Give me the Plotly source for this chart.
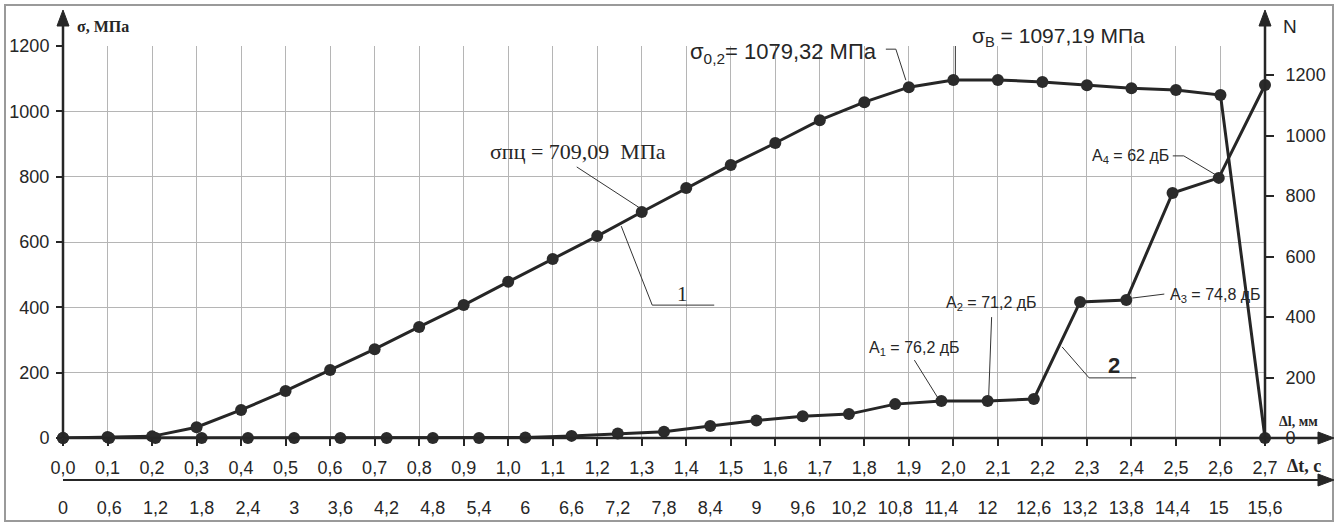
import plotly.graph_objects as go

# ---------------- data ----------------
dl_mm = [0.0, 0.1, 0.2, 0.3, 0.4, 0.5, 0.6, 0.7, 0.8, 0.9, 1.0, 1.1, 1.2, 1.3,
         1.4, 1.5, 1.6, 1.7, 1.8, 1.9, 2.0, 2.1, 2.2, 2.3, 2.4, 2.5, 2.6, 2.7]
dl_labels = ["0,0", "0,1", "0,2", "0,3", "0,4", "0,5", "0,6", "0,7", "0,8", "0,9",
             "1,0", "1,1", "1,2", "1,3", "1,4", "1,5", "1,6", "1,7", "1,8", "1,9",
             "2,0", "2,1", "2,2", "2,3", "2,4", "2,5", "2,6", "2,7"]
sigma_mpa = [0, 3, 5, 33, 86, 144, 208, 272, 340, 407, 478, 548, 618, 692,
             765, 836, 903, 973, 1028, 1074, 1096, 1096, 1090, 1080, 1071, 1065, 1050, 0]

dt_s = [0, 0.6, 1.2, 1.8, 2.4, 3, 3.6, 4.2, 4.8, 5.4, 6, 6.6, 7.2, 7.8, 8.4, 9,
        9.6, 10.2, 10.8, 11.4, 12, 12.6, 13.2, 13.8, 14.4, 15, 15.6]
dt_labels = ["0", "0,6", "1,2", "1,8", "2,4", "3", "3,6", "4,2", "4,8", "5,4", "6",
             "6,6", "7,2", "7,8", "8,4", "9", "9,6", "10,2", "10,8", "11,4", "12",
             "12,6", "13,2", "13,8", "14,4", "15", "15,6"]
n_counts = [0, 0, 0, 0, 0, 0, 0, 0, 0, 0, 2, 7, 15, 21, 40, 58, 72, 79, 112, 122,
            122, 129, 450, 456, 810, 860, 1167]

sigma_ticks = [0, 200, 400, 600, 800, 1000, 1200]
n_ticks = [0, 200, 400, 600, 800, 1000, 1200]

# ---------------- geometry ----------------
W, H = 1337, 524
ML, MR, MT, MB = 63, 72, 46, 44
PW, PH = W - ML - MR, H - MT - MB
Y0PX = 438  # pixel row of the first x axis
YDOM0 = (H - MB - Y0PX) / PH


def P(xp, yp):
    return (xp - ML) / PW, (H - MB - yp) / PH


INK = "#262626"
NARROW = "Liberation Sans Narrow, Arial Narrow, Liberation Sans, sans-serif"
SERIF = "Liberation Serif, Times New Roman, serif"
TICKFONT = dict(family=NARROW, size=18, color=INK)

fig = go.Figure()

fig.add_trace(go.Scatter(
    x=dl_mm, y=sigma_mpa, xaxis="x", yaxis="y", mode="lines+markers",
    line=dict(color=INK, width=3), marker=dict(size=12, color="#2b2b2b"),
    cliponaxis=False, showlegend=False, name="σ"))

fig.add_trace(go.Scatter(
    x=dt_s, y=n_counts, xaxis="x2", yaxis="y2", mode="lines+markers",
    line=dict(color=INK, width=3), marker=dict(size=12, color="#2b2b2b"),
    cliponaxis=False, showlegend=False, name="N"))

fig.update_layout(
    width=W, height=H,
    margin=dict(l=ML, r=MR, t=MT, b=MB, pad=0, autoexpand=False),
    paper_bgcolor="white", plot_bgcolor="white",
    xaxis=dict(domain=[0, 1], anchor="y", range=[0, 2.7], automargin=False,
               tickmode="array", tickvals=dl_mm, ticktext=dl_labels,
               ticks="outside", ticklen=7, tickwidth=1.5, tickcolor=INK,
               showgrid=True, gridcolor="#b5b5b5", gridwidth=1,
               showline=False, zeroline=False, tickfont=TICKFONT,
               ticklabelstandoff=6),
    xaxis2=dict(domain=[0, 1], anchor="free", position=0, overlaying="x",
                side="bottom", range=[0, 15.6], automargin=False,
                tickmode="array", tickvals=dt_s, ticktext=dt_labels,
                ticks="", showgrid=False, showline=False, zeroline=False,
                tickfont=TICKFONT, ticklabelstandoff=15),
    xaxis3=dict(domain=[0, 1], anchor="y", overlaying="x", side="bottom",
                range=[0, 15.6], tickmode="array", tickvals=dt_s, automargin=False,
                ticks="outside", ticklen=7, tickwidth=1.5, tickcolor=INK,
                showticklabels=False, showgrid=False, showline=False, zeroline=False),
    yaxis=dict(domain=[YDOM0, 1], anchor="x", range=[0, 1200], automargin=False,
               tickmode="array", tickvals=sigma_ticks,
               ticks="outside", ticklen=6, tickwidth=1.5, tickcolor=INK,
               showgrid=True, gridcolor="#b5b5b5", gridwidth=1,
               showline=False, zeroline=False, tickfont=TICKFONT,
               ticklabelstandoff=3),
    yaxis2=dict(domain=[YDOM0, 1], anchor="x", overlaying="y", side="right",
                range=[0, 1296], tickmode="array", tickvals=n_ticks, automargin=False,
                ticks="outside", ticklen=8, tickwidth=1.5, tickcolor=INK,
                showgrid=False, showline=False, zeroline=False,
                tickfont=TICKFONT, ticklabelstandoff=8),
)

shapes = []
annots = []

# outer frame
x0, y0 = P(5, 5)
x1, y1 = P(1333, 521)
shapes.append(dict(type="rect", xref="paper", yref="paper", x0=x0, y0=y1, x1=x1, y1=y0,
                   line=dict(color="#9a9a9a", width=2), fillcolor="rgba(0,0,0,0)", layer="below"))


def pline(pts, width=2.5, color=INK):
    xs = [P(a, b) for a, b in pts]
    d = "M " + " L ".join(f"{u:.5f},{v:.5f}" for u, v in xs)
    shapes.append(dict(type="path", xref="paper", yref="paper", path=d,
                       line=dict(color=color, width=width)))


def tri(pts):
    xs = [P(a, b) for a, b in pts]
    d = "M " + " L ".join(f"{u:.5f},{v:.5f}" for u, v in xs) + " Z"
    shapes.append(dict(type="path", xref="paper", yref="paper", path=d,
                       line=dict(color=INK, width=1), fillcolor=INK))


# axis lines with arrows
pline([(63, 438), (63, 24)])
tri([(63, 10), (57, 26), (69, 26)])
pline([(1265, 438), (1265, 24)])
tri([(1265, 10), (1259, 26), (1271, 26)])
pline([(63, 438), (1320, 438)])
tri([(1334, 438), (1318, 432), (1318, 444)])
pline([(63, 480), (1320, 480)], width=2)
tri([(1334, 480), (1318, 474), (1318, 486)])


def ptext(xp, yp, text, size, family, bold=False, xanchor="left"):
    u, v = P(xp, yp)
    t = f"<b>{text}</b>" if bold else text
    annots.append(dict(xref="paper", yref="paper", x=u, y=v, text=t, showarrow=False,
                       xanchor=xanchor, yanchor="middle",
                       font=dict(family=family, size=size, color=INK)))


ptext(75, 27, "σ, МПа", 16, SERIF, bold=True)
ptext(1281, 27, "N", 19, NARROW)
ptext(1277, 421, "Δl, мм", 14, SERIF, bold=True)
ptext(1285, 466, "Δt, c", 18, SERIF, bold=True)


def leader(xr, yr, xa, ya, pts, width=1):
    d = "M " + " L ".join(f"{a},{b}" for a, b in pts)
    shapes.append(dict(type="path", xref=xr, yref=yr, xsizemode="pixel", ysizemode="pixel",
                       xanchor=xa, yanchor=ya, path=d, line=dict(color="#333333", width=width)))


def dtext(xr, yr, xa, ya, text, dx, dy, size, family, xanchor="left"):
    annots.append(dict(xref=xr, yref=yr, x=xa, y=ya, text=text, showarrow=False,
                       xanchor=xanchor, yanchor="middle", xshift=dx, yshift=dy,
                       font=dict(family=family, size=size, color=INK)))


# σпц at 1.3
i = 13
leader("x", "y", dl_mm[i], sigma_mpa[i], [(-2, 4), (-65, 45)])
dtext("x", "y", dl_mm[i], sigma_mpa[i], "σпц = 709,09  МПа", -154, 60, 22, SERIF)
# curve label 1
i = 12
leader("x", "y", dl_mm[i], sigma_mpa[i], [(24, 10), (55, -69), (117, -69)])
dtext("x", "y", dl_mm[i], sigma_mpa[i], "1", 85, -58, 21, SERIF, xanchor="center")
# σ0,2 at 1.9
i = 19
leader("x", "y", dl_mm[i], sigma_mpa[i], [(-3, 7), (-13, 38), (-23, 38)])
dtext("x", "y", dl_mm[i], sigma_mpa[i], "σ<sub>0,2</sub>= 1079,32 МПа", -30, 34, 22, NARROW,
      xanchor="right")
# σB at 2.0
i = 20
leader("x", "y", dl_mm[i], sigma_mpa[i], [(2, 2), (2, 47), (12, 47)])
dtext("x", "y", dl_mm[i], sigma_mpa[i], "σ<sub>B</sub> = 1097,19 МПа", 17, 43, 21, NARROW)

# acoustic labels on curve 2
i = 19
leader("x2", "y2", dt_s[i], n_counts[i], [(-27, 41), (-4, 4)])
dtext("x2", "y2", dt_s[i], n_counts[i], "A<sub>1</sub> = 76,2 дБ", -27, 53, 16, NARROW,
      xanchor="center")
i = 20
leader("x2", "y2", dt_s[i], n_counts[i], [(4, 84), (1, 3)])
dtext("x2", "y2", dt_s[i], n_counts[i], "A<sub>2</sub> = 71,2 дБ", 4, 98, 16, NARROW,
      xanchor="center")
i = 22
leader("x2", "y2", dt_s[i], n_counts[i], [(-18, -45), (9, -76), (56, -76)])
dtext("x2", "y2", dt_s[i], n_counts[i], "<b>2</b>", 34, -64, 22, NARROW, xanchor="center")
i = 23
leader("x2", "y2", dt_s[i], n_counts[i], [(6, 2), (38, 6)])
dtext("x2", "y2", dt_s[i], n_counts[i], "A<sub>3</sub> = 74,8 дБ", 42, 5, 16, NARROW)
i = 25
leader("x2", "y2", dt_s[i], n_counts[i], [(-3, 3), (-35, 22), (-46, 22)])
dtext("x2", "y2", dt_s[i], n_counts[i], "A<sub>4</sub> = 62 дБ", -48, 21, 16, NARROW,
      xanchor="right")

fig.update_layout(shapes=shapes, annotations=annots)
fig.write_html("out.html")
